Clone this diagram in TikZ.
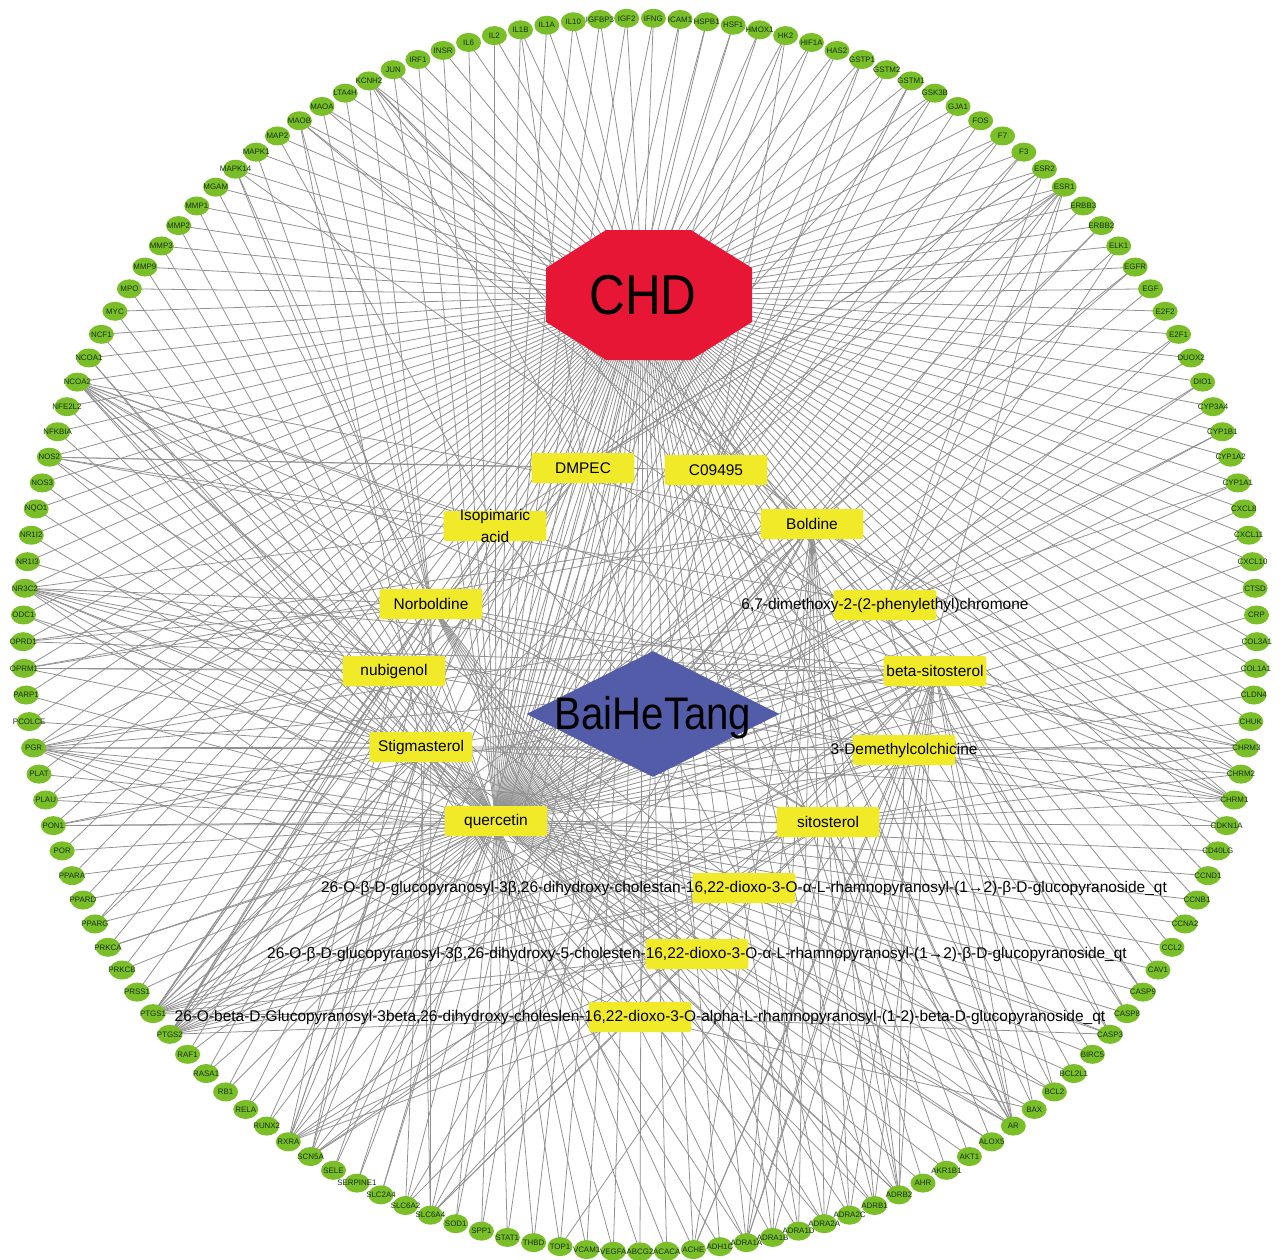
\documentclass[tikz,border=0pt]{standalone}
\usepackage{fontspec}
\setmainfont{Liberation Sans}
\newfontfamily\condfont{Liberation Sans}[FakeStretch=0.88]
\usetikzlibrary{shapes.geometric,backgrounds}

\definecolor{chdred}{RGB}{230,22,52}
\definecolor{herbblue}{RGB}{82,92,168}
\definecolor{cpdyellow}{RGB}{240,234,40}
\definecolor{tgtgreen}{RGB}{122,190,40}
\definecolor{tgtink}{RGB}{20,50,20}
\definecolor{linkgray}{RGB}{145,145,145}

\tikzset{
	target/.style={ellipse, fill=tgtgreen, minimum width=0.5cm, minimum height=0.38cm, inner sep=0pt},
	tgtlabel/.style={font=\fontsize{4.5}{5}\selectfont, text=tgtink, inner sep=0pt},
	compound/.style={rectangle, rounded corners=1.5pt, fill=cpdyellow, minimum width=2.06cm, minimum height=0.6cm, inner sep=0pt},
	cpdlabel/.style={font=\fontsize{8.8}{12}\selectfont, inner sep=0pt, align=center},
	herb/.style={diamond, fill=herbblue, minimum width=5.06cm, minimum height=2.52cm, inner sep=0pt},
	herbtext/.style={font={\condfont\fontsize{26}{26}\selectfont}, inner sep=0pt, yshift=-0.08cm},
	chdtext/.style={font={\condfont\fontsize{32}{32}\selectfont}, inner sep=0pt},
	link/.style={draw=linkgray, line width=0.45pt}
}

\begin{document}
\begin{tikzpicture}[x=0.02cm, y=0.02cm]
	\useasboundingbox (0,0) rectangle (1282,-1259);

	% targets round the ring
	\begin{scope}[shift={(640,-635)}]
		\foreach \gene [count=\k from 0] in {ABCG2,ACACA,ACHE,ADH1C,ADRA1A,ADRA1B,ADRA1D,ADRA2A,ADRA2C,ADRB1,ADRB2,AHR,AKR1B1,AKT1,ALOX5,AR,BAX,BCL2,BCL2L1,BIRC5,CASP3,CASP8,CASP9,CAV1,CCL2,CCNA2,CCNB1,CCND1,CD40LG,CDKN1A,CHRM1,CHRM2,CHRM3,CHUK,CLDN4,COL1A1,COL3A1,CRP,CTSD,CXCL10,CXCL11,CXCL8,CYP1A1,CYP1A2,CYP1B1,CYP3A4,DIO1,DUOX2,E2F1,E2F2,EGF,EGFR,ELK1,ERBB2,ERBB3,ESR1,ESR2,F3,F7,FOS,GJA1,GSK3B,GSTM1,GSTM2,GSTP1,HAS2,HIF1A,HK2,HMOX1,HSF1,HSPB1,ICAM1,IFNG,IGF2,IGFBP3,IL10,IL1A,IL1B,IL2,IL6,INSR,IRF1,JUN,KCNH2,LTA4H,MAOA,MAOB,MAP2,MAPK1,MAPK14,MGAM,MMP1,MMP2,MMP3,MMP9,MPO,MYC,NCF1,NCOA1,NCOA2,NFE2L2,NFKBIA,NOS2,NOS3,NQO1,NR1I2,NR1I3,NR3C2,ODC1,OPRD1,OPRM1,PARP1,PCOLCE,PGR,PLAT,PLAU,PON1,POR,PPARA,PPARD,PPARG,PRKCA,PRKCB,PRSS1,PTGS1,PTGS2,RAF1,RASA1,RB1,RELA,RUNX2,RXRA,SCN5A,SELE,SERPINE1,SLC2A4,SLC6A2,SLC6A4,SOD1,SPP1,STAT1,THBD,TOP1,VCAM1,VEGFA}
			\node[target, label={[tgtlabel]center:\gene}] (\gene) at ({-90+\k*2.482759}:12.34cm) {};
	\end{scope}

	% disease
	\fill[chdred] (546,-268) -- (606,-230) -- (691,-230) -- (752,-268) -- (752,-322) -- (691,-360) -- (606,-360) -- (546,-322) -- cycle;
	\node[chdtext] (chd) at (643,-295) {CHD};

	% herb
	\node[herb, label={[herbtext]center:BaiHeTang}] (bht) at (653,-714) {};

	% compounds
	\node[compound, label={[cpdlabel]center:DMPEC}] (dmpec) at (583,-468) {};
	\node[compound, label={[cpdlabel]center:C09495}] (cnine) at (716,-470) {};
	\node[compound, label={[cpdlabel]center:Isopimaric\\acid}] (isopim) at (495,-526) {};
	\node[compound, label={[cpdlabel]center:Boldine}] (boldine) at (812,-524) {};
	\node[compound, label={[cpdlabel]center:Norboldine}] (norboldine) at (431,-604) {};
	\node[compound, label={[cpdlabel]center:{6,7-dimethoxy-2-(2-phenylethyl)chromone}}] (chromone) at (885,-605) {};
	\node[compound, label={[cpdlabel]center:nubigenol}] (nubigenol) at (394,-671) {};
	\node[compound, label={[cpdlabel]center:beta-sitosterol}] (bsito) at (935,-671) {};
	\node[compound, label={[cpdlabel]center:Stigmasterol}] (stigma) at (421,-747) {};
	\node[compound, label={[cpdlabel]center:3-Demethylcolchicine}] (demcol) at (904,-750) {};
	\node[compound, label={[cpdlabel]center:quercetin}] (quercetin) at (496,-821) {};
	\node[compound, label={[cpdlabel]center:sitosterol}] (sito) at (828,-822) {};
	\node[compound, label={[cpdlabel]center:{26-O-β-D-glucopyranosyl-3β,26-dihydroxy-cholestan-16,22-dioxo-3-O-α-L-rhamnopyranosyl-(1→2)-β-D-glucopyranoside\_qt}}] (sapa) at (744,-888) {};
	\node[compound, label={[cpdlabel]center:{26-O-β-D-glucopyranosyl-3β,26-dihydroxy-5-cholesten-16,22-dioxo-3-O-α-L-rhamnopyranosyl-(1→2)-β-D-glucopyranoside\_qt}}] (sapb) at (697,-954) {};
	\node[compound, label={[cpdlabel]center:{26-O-beta-D-Glucopyranosyl-3beta,26-dihydroxy-choleslen-16,22-dioxo-3-O-alpha-L-rhamnopyranosyl-(1-2)-beta-D-glucopyranoside\_qt}}] (sapc) at (640,-1017) {};

	\begin{pgfonlayer}{background}
		\fill[white] (0,0) rectangle (1282,-1259);
		\foreach \gene in {ABCG2,ACACA,ACHE,ADH1C,ADRA1A,ADRA1B,ADRA1D,ADRA2A,ADRA2C,ADRB1,ADRB2,AHR,AKR1B1,AKT1,ALOX5,AR,BAX,BCL2,BCL2L1,BIRC5,CASP3,CASP8,CASP9,CAV1,CCL2,CCNA2,CCNB1,CCND1,CD40LG,CDKN1A,CHRM1,CHRM2,CHRM3,CHUK,CLDN4,COL1A1,COL3A1,CRP,CTSD,CXCL10,CXCL11,CXCL8,CYP1A1,CYP1A2,CYP1B1,CYP3A4,DIO1,DUOX2,E2F1,E2F2,EGF,EGFR,ELK1,ERBB2,ERBB3,ESR1,ESR2,F3,F7,FOS,GJA1,GSK3B,GSTM1,GSTM2,GSTP1,HAS2,HIF1A,HK2,HMOX1,HSF1,HSPB1,ICAM1,IFNG,IGF2,IGFBP3,IL10,IL1A,IL1B,IL2,IL6,INSR,IRF1,JUN,KCNH2,LTA4H,MAOA,MAOB,MAP2,MAPK1,MAPK14,MGAM,MMP1,MMP2,MMP3,MMP9,MPO,MYC,NCF1,NCOA1,NCOA2,NFE2L2,NFKBIA,NOS2,NOS3,NQO1,NR1I2,NR1I3,NR3C2,ODC1,OPRD1,OPRM1,PARP1,PCOLCE,PGR,PLAT,PLAU,PON1,POR,PPARA,PPARD,PPARG,PRKCA,PRKCB,PRSS1,PTGS1,PTGS2,RAF1,RASA1,RB1,RELA,RUNX2,RXRA,SCN5A,SELE,SERPINE1,SLC2A4,SLC6A2,SLC6A4,SOD1,SPP1,STAT1,THBD,TOP1,VCAM1,VEGFA}
			\draw[link] (chd.center) -- (\gene.center);
		\foreach \cpd in {dmpec,cnine,isopim,boldine,norboldine,chromone,nubigenol,bsito,stigma,demcol,quercetin,sito,sapa,sapb,sapc}
			\draw[link] (bht.center) -- (\cpd.center);
		\foreach \cpd/\genes in {
				quercetin/{ABCG2,ACACA,ACHE,ADRB2,AHR,AKR1B1,AKT1,ALOX5,AR,BAX,BCL2,BCL2L1,BIRC5,CASP3,CASP8,CASP9,CAV1,CCL2,CCNA2,CCNB1,CCND1,CD40LG,CDKN1A,CHUK,CLDN4,COL1A1,COL3A1,CRP,CTSD,CXCL10,CXCL11,CXCL8,CYP1A1,CYP1A2,CYP1B1,CYP3A4,DIO1,DUOX2,E2F1,E2F2,EGF,EGFR,ELK1,ERBB2,ERBB3,ESR1,ESR2,F3,F7,FOS,GJA1,GSK3B,GSTM1,GSTM2,GSTP1,HAS2,HIF1A,HK2,HMOX1,HSF1,HSPB1,ICAM1,IFNG,IGF2,IGFBP3,IL10,IL1A,IL1B,IL2,IL6,INSR,IRF1,JUN,MAPK1,MAPK14,MMP1,MMP2,MMP3,MMP9,MPO,MYC,NCF1,NCOA1,NFE2L2,NFKBIA,NOS2,NOS3,NQO1,NR1I2,ODC1,PARP1,PGR,PLAT,PLAU,PON1,POR,PPARA,PPARD,PPARG,PRKCA,PRKCB,PRSS1,PTGS1,PTGS2,RAF1,RASA1,RB1,RELA,RUNX2,RXRA,SELE,SERPINE1,SLC2A4,SOD1,SPP1,STAT1,THBD,TOP1,VCAM1,VEGFA},
				bsito/{PGR,NCOA2,PTGS1,PTGS2,KCNH2,CHRM3,CHRM1,ADRB2,CHRM2,ADRA1B,SLC6A2,SLC6A4,ADRA2A,SCN5A,PRKCA,BAX,BCL2,CASP3,CASP9,CASP8,JUN,PON1,OPRM1,ADRA1A,ADRA2C,ADRB1,RXRA,NR3C2,OPRD1,ACHE,AR,MAPK14},
				stigma/{PGR,NCOA2,NR3C2,PTGS1,PTGS2,PON1,ADRA1A,ADRB2,SCN5A,RXRA,CHRM3,CHRM1,SLC6A4,ADRA2A,ADRB1,ADH1C,MAOB,ALOX5,PLAU,PCOLCE,NCOA1,ODC1,OPRM1},
				sito/{NR3C2,PGR,PTGS1,PTGS2,NCOA2,CHRM1,CHRM3,ADRA1A,ADRB2,SCN5A,RXRA,SLC6A4,PON1,AR,CHRM2},
				nubigenol/{NR3C2,PTGS1,PTGS2,NCOA2,PGR,AR,RXRA,OPRM1,NR1I3,NOS2,ESR1},
				isopim/{PTGS2,NCOA2,NR3C2,PTGS1,RXRA,PGR,NOS2,MAP2,ESR2},
				dmpec/{PTGS1,PTGS2,ESR1,ESR2,AR,NOS2,GSK3B,PPARG,KCNH2,CHRM1,F7,IL1B},
				cnine/{PTGS1,PTGS2,NOS2,ESR1,GSTM1,GSTP1,MAOB,AR,F3,HK2},
				boldine/{ADRA1A,ADRA1B,ADRA1D,ADRA2A,ADRA2C,ADRB1,ADRB2,CHRM1,CHRM2,CHRM3,SLC6A2,SLC6A4,SCN5A,OPRM1,OPRD1,KCNH2,PTGS1,PTGS2,ACHE,MAOA,MAOB,RXRA,NCOA2,ESR1,ERBB2,EGFR},
				norboldine/{ADRA1A,ADRA1B,ADRA1D,ADRA2A,ADRA2C,ADRB1,ADRB2,CHRM1,CHRM3,SLC6A2,SLC6A4,SCN5A,OPRM1,OPRD1,KCNH2,PTGS1,PTGS2,MAOA,MAOB,NR3C2,NCOA2,LTA4H,MGAM,MAPK14},
				demcol/{PTGS1,PTGS2,CHRM1,CHRM2,CHRM3,ADRA1A,ADRB2,SCN5A,NCOA2,KCNH2,ESR1,AR,PGR,NR3C2,ACHE,SLC6A4,CDKN1A,TOP1},
				chromone/{PTGS1,PTGS2,ESR1,ESR2,AR,NOS2,PGR,CYP1A1,CYP1B1,ELK1,DIO1,E2F1},
				sapa/{PTGS1,PTGS2,NCOA2,NR3C2,PGR,CASP3,BCL2},
				sapb/{PTGS1,PTGS2,NCOA2,NR3C2,PGR,AR,RXRA},
				sapc/{PTGS1,PTGS2,NCOA2,NR3C2,PGR,CASP3,BAX,RXRA}}
			\foreach \gene in \genes
				\draw[link] (\cpd.center) -- (\gene.center);
	\end{pgfonlayer}
\end{tikzpicture}
\end{document}
